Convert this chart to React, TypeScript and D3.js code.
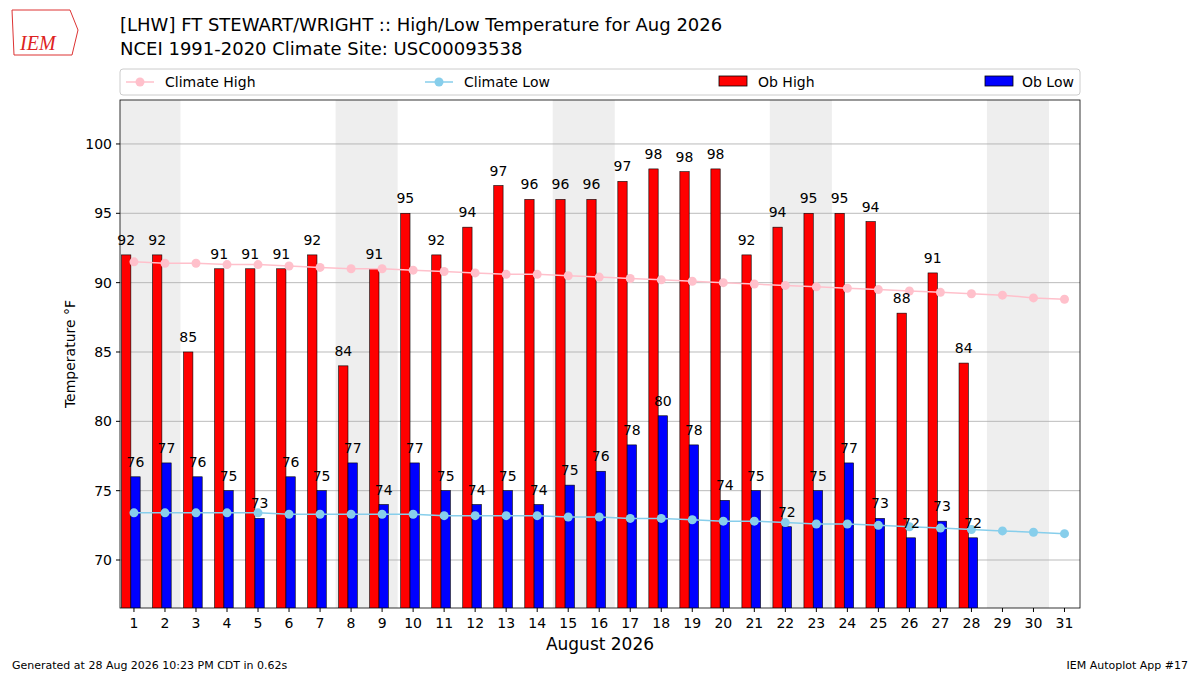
import * as d3 from "d3";

const days = d3.range(1, 32);
const obHigh = [92, 92, 85, 91, 91, 91, 92, 84, 91, 95, 92, 94, 97, 96, 96, 96, 97.3, 98.2, 98, 98.2, 92, 94, 95, 95, 94.4, 87.8, 90.7, 84.2];
const obLow = [76, 77, 76, 75, 73, 76, 75, 77, 74, 77, 75, 74, 75, 74, 75.4, 76.4, 78.3, 80.4, 78.3, 74.3, 75, 72.4, 75, 77, 73, 71.6, 72.8, 71.6];
const climHigh = [91.5, 91.4, 91.4, 91.3, 91.3, 91.2, 91.1, 91.0, 91.0, 90.9, 90.8, 90.7, 90.6, 90.6, 90.5, 90.4, 90.3, 90.2, 90.1, 90.0, 89.9, 89.8, 89.7, 89.6, 89.5, 89.4, 89.3, 89.2, 89.1, 88.9, 88.8];
const climLow = [73.4, 73.4, 73.4, 73.4, 73.4, 73.3, 73.3, 73.3, 73.3, 73.3, 73.2, 73.2, 73.2, 73.2, 73.1, 73.1, 73.0, 73.0, 72.9, 72.8, 72.8, 72.7, 72.6, 72.6, 72.5, 72.4, 72.3, 72.2, 72.1, 72.0, 71.9];
const weekends = [1, 8, 15, 22, 29];
const yTicks = [70, 75, 80, 85, 90, 95, 100];

const L = 120, R = 1080, T = 100, B = 608;
const font = "DejaVu Sans, sans-serif";

export default function App() {
  const x = d3.scaleLinear().domain([0.55, 31.5]).range([L, R]);
  const y = d3.scaleLinear().domain([66.54, 103.17]).range([B, T]);
  const line = d3.line<number>().x((_, i) => x(i + 1)).y((d) => y(d));
  return (
    <svg width={1200} height={675} style={{ position: "absolute", left: 0, top: 0, background: "#fff" }} fontFamily={font}>
      <rect width={1200} height={675} fill="#fff" />
      <text x={20} y={50} fill="#d22" fontSize={20} fontStyle="italic" fontFamily="Liberation Serif, serif">IEM</text>
      <path d="M12 10 L70 10 L78 30 L72 55 L14 55 Z" fill="none" stroke="#d33" strokeWidth={1} />
      <text x={120} y={31} fontSize={18}>[LHW] FT STEWART/WRIGHT :: High/Low Temperature for Aug 2026</text>
      <text x={120} y={55} fontSize={18}>NCEI 1991-2020 Climate Site: USC00093538</text>

      <rect x={120} y={69} width={960} height={26} rx={3} fill="#fff" stroke="#ccc" />
      <line x1={126} x2={154} y1={82} y2={82} stroke="pink" strokeWidth={1.5} />
      <circle cx={140} cy={82} r={4.5} fill="pink" />
      <text x={165} y={87} fontSize={14}>Climate High</text>
      <line x1={425} x2={453} y1={82} y2={82} stroke="skyblue" strokeWidth={1.5} />
      <circle cx={439} cy={82} r={4.5} fill="skyblue" />
      <text x={464} y={87} fontSize={14}>Climate Low</text>
      <rect x={719} y={76} width={28} height={10} fill="red" stroke="#000" strokeWidth={0.8} />
      <text x={758} y={87} fontSize={14}>Ob High</text>
      <rect x={985} y={76} width={28} height={10} fill="blue" stroke="#000" strokeWidth={0.8} />
      <text x={1022} y={87} fontSize={14}>Ob Low</text>

      <defs>
        <clipPath id="c"><rect x={L} y={T} width={R - L} height={B - T} /></clipPath>
      </defs>
      <g clipPath="url(#c)">
        {weekends.map((d) => (
          <rect key={d} x={x(d - 0.5)} width={x(d + 1.5) - x(d - 0.5)} y={T} height={B - T} fill="#eee" />
        ))}
        {yTicks.map((t) => (
          <line key={t} x1={L} x2={R} y1={y(t)} y2={y(t)} stroke="#aaa" strokeWidth={0.8} />
        ))}
        {obHigh.map((v, i) => (
          <rect key={"h" + i} x={x(i + 0.6)} width={x(0.9) - x(0.6)} y={y(v)} height={B - y(v) + 2} fill="red" stroke="#000" strokeWidth={0.6} />
        ))}
        {obLow.map((v, i) => (
          <rect key={"l" + i} x={x(i + 0.9)} width={x(0.9) - x(0.6)} y={y(v)} height={B - y(v) + 2} fill="blue" stroke="#000" strokeWidth={0.6} />
        ))}
        <path d={line(climHigh) ?? ""} fill="none" stroke="pink" strokeWidth={1.5} />
        {climHigh.map((v, i) => <circle key={"ch" + i} cx={x(i + 1)} cy={y(v)} r={4.5} fill="pink" />)}
        <path d={line(climLow) ?? ""} fill="none" stroke="skyblue" strokeWidth={1.5} />
        {climLow.map((v, i) => <circle key={"cl" + i} cx={x(i + 1)} cy={y(v)} r={4.5} fill="skyblue" />)}
      </g>
      {obHigh.map((v, i) => (
        <text key={"th" + i} x={x(i + 0.75)} y={y(v) - 10} fontSize={14} textAnchor="middle">{Math.round(v)}</text>
      ))}
      {obLow.map((v, i) => (
        <text key={"tl" + i} x={x(i + 1.05)} y={y(v) - 10} fontSize={14} textAnchor="middle">{Math.round(v)}</text>
      ))}
      <rect x={L} y={T} width={R - L} height={B - T} fill="none" stroke="#000" strokeWidth={0.8} />
      {yTicks.map((t) => (
        <g key={t}>
          <line x1={L - 4} x2={L} y1={y(t)} y2={y(t)} stroke="#000" />
          <text x={L - 8} y={y(t) + 5} fontSize={14} textAnchor="end">{t}</text>
        </g>
      ))}
      {days.map((d) => (
        <g key={d}>
          <line x1={x(d)} x2={x(d)} y1={B} y2={B + 4} stroke="#000" />
          <text x={x(d)} y={B + 20} fontSize={14} textAnchor="middle">{d}</text>
        </g>
      ))}
      <text x={600} y={650} fontSize={17} textAnchor="middle">August 2026</text>
      <text transform={`translate(75,${(T + B) / 2}) rotate(-90)`} fontSize={14} textAnchor="middle">Temperature °F</text>
      <text x={12} y={669} fontSize={11}>Generated at 28 Aug 2026 10:23 PM CDT in 0.62s</text>
      <text x={1188} y={669} fontSize={11} textAnchor="end">IEM Autoplot App #17</text>
    </svg>
  );
}
